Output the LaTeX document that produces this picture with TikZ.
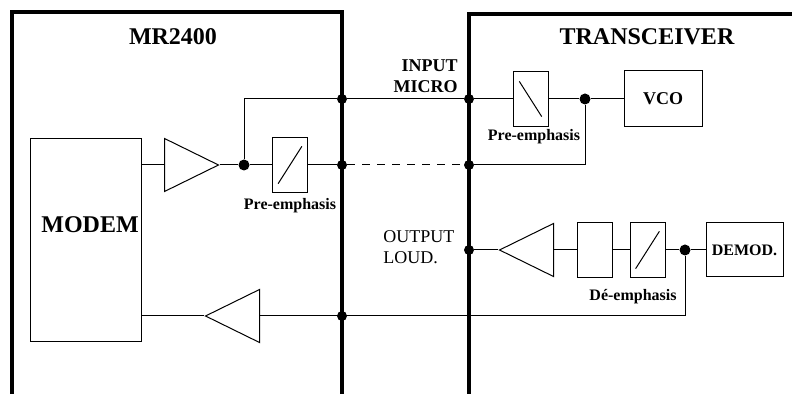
\documentclass[tikz,border=0pt]{standalone}
\usepackage{fontspec}
\setmainfont{Liberation Serif}
\usetikzlibrary{shapes.geometric,calc}

\begin{document}
\begin{tikzpicture}
  [x=0.5pt, y=-0.5pt,
   wire/.style={line width=0.5pt},
   frame/.style={line width=2.4pt},
   block/.style={draw, rectangle, line width=0.5pt, inner sep=0pt},
   filt/.style={block, minimum width=17.5pt, minimum height=27.5pt},
   upslash/.style={filt, path picture={\draw ($(path picture bounding box.south west)!0.16!(path picture bounding box.north east)$) -- ($(path picture bounding box.south west)!0.84!(path picture bounding box.north east)$);}},
   downslash/.style={filt, path picture={\draw ($(path picture bounding box.north west)!0.18!(path picture bounding box.south east)$) -- ($(path picture bounding box.north west)!0.82!(path picture bounding box.south east)$);}},
   junction/.style={circle, fill, inner sep=0pt, minimum size=5.5pt},
   amp/.style={draw, isosceles triangle, isosceles triangle stretches, line width=0.5pt, inner sep=0pt, minimum width=26.5pt, minimum height=27pt, anchor=lower side},
   title/.style={font=\fontsize{12}{14}\selectfont\bfseries},
   tag/.style={font=\fontsize{8}{9}\selectfont\bfseries},
   port/.style={font=\fontsize{9}{10.5}\selectfont, inner sep=0pt}]
  \useasboundingbox (0,0) rectangle (792,394);

  % the two units
  \draw[frame] (12,394) -- (12,12) -- (342,12) -- (342,394);
  \draw[frame] (469,394) -- (469,14) -- (792,14);
  \node[title] (mrlbl) at (173,37) {MR2400};
  \node[title] (trlbl) at (647,37) {TRANSCEIVER};

  % MR2400 side
  \node[block, minimum width=55.5pt, minimum height=101.5pt] (modem) at (85.5,240.5) {};
  \node[title] (modemlbl) at (90,225) {MODEM};
  \node[amp] (amp1) at (164,165) {};
  \node[junction] (j1) at (244,165) {};
  \node[upslash] (pre1) at (290,165) {};
  \node[tag] (pre1lbl) at (290,206) {Pre-emphasis};
  \node[amp, shape border rotate=180] (amp3) at (260,316) {};

  \node[junction, minimum size=5pt] (j2) at (342,99) {};
  \node[junction, minimum size=5pt] (j3) at (342,165) {};
  \node[junction, minimum size=5pt] (j4) at (342,316) {};
  \node[junction, minimum size=5pt] (j5) at (469,99) {};
  \node[junction, minimum size=5pt] (j6) at (469,165) {};
  \node[junction, minimum size=5pt] (j7) at (469,250) {};

  \node[port, font=\fontsize{9}{10.5}\selectfont\bfseries, align=right, anchor=east] (inlbl) at (458,76.5) {INPUT\\MICRO};
  \node[port, align=left, anchor=west] (outlbl) at (383,247) {OUTPUT\\LOUD.};

  % transceiver side
  \node[downslash] (pre2) at (530.5,99) {};
  \node[tag] (pre2lbl) at (534,137) {Pre-emphasis};
  \node[junction] (j8) at (585,99) {};
  \node[block, minimum width=39pt, minimum height=28pt, font=\fontsize{9}{10}\selectfont\bfseries] (vco) at (663,99) {VCO};
  \node[amp, shape border rotate=180] (amp2) at (554,250) {};
  \node[filt] (filt1) at (594.5,250) {};
  \node[upslash] (filt2) at (647.5,250) {};
  \node[junction] (j9) at (685,250) {};
  \node[block, minimum width=38.5pt, minimum height=27pt, font=\fontsize{8}{9}\selectfont\bfseries] (demod) at (744.5,250) {DEMOD.};
  \node[tag] (delbl) at (633,297) {Dé-emphasis};

  % wiring
  \draw[wire] (modem.east |- amp1.lower side) -- (amp1.lower side);
  \draw[wire] (amp1.apex) -- (j1) -- (pre1) -- (j3);
  \draw[wire, dash pattern=on 4pt off 3.5pt] (j3) -- (j6);
  \draw[wire] (j6) -| (j8);
  \draw[wire] (j1) |- (j2) -- (j5) -- (pre2) -- (j8) -- (vco);
  \draw[wire] (j7) -- (amp2.apex);
  \draw[wire] (amp2.lower side) -- (filt1) -- (filt2) -- (j9) -- (demod);
  \draw[wire] (j9) |- (amp3.lower side);
  \draw[wire] (amp3.apex) -- (modem.east |- amp3.apex);
\end{tikzpicture}
\end{document}
